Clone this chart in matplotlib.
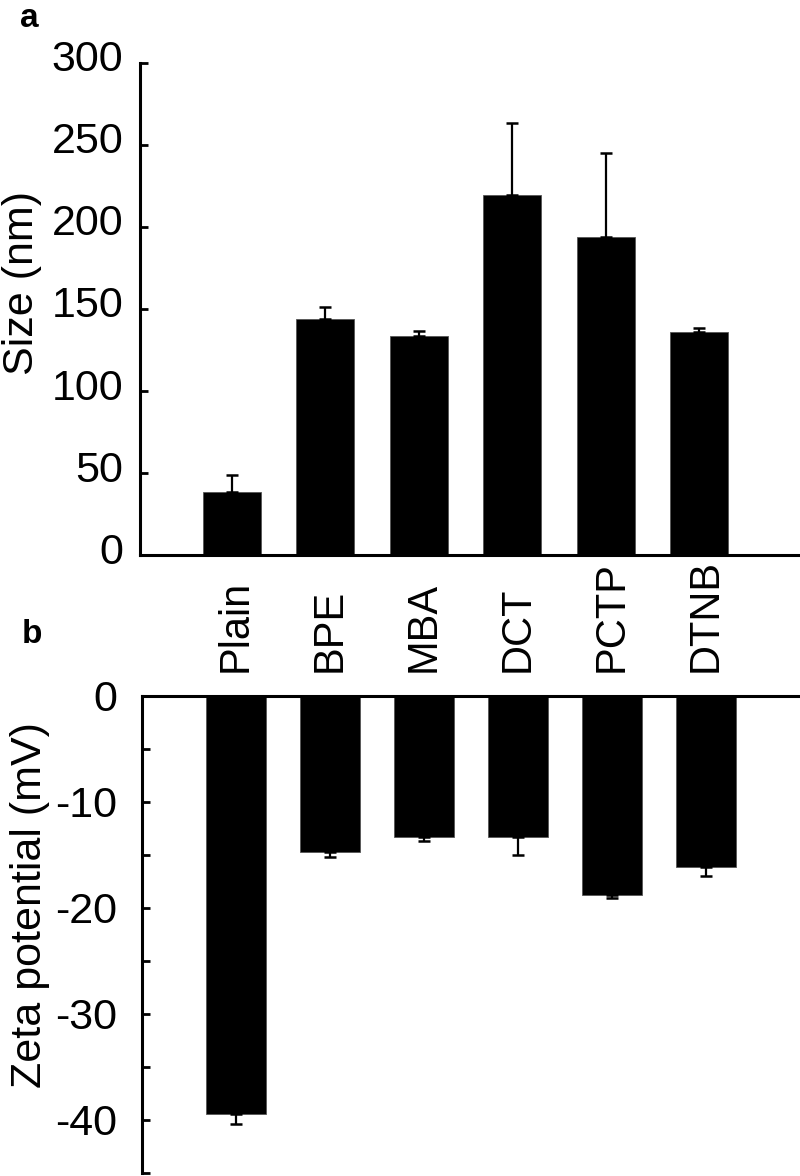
import numpy as np
import matplotlib
matplotlib.use('Agg')
import matplotlib.pyplot as plt
from matplotlib.transforms import ScaledTranslation

plt.rcParams['font.family'] = ['Liberation Sans', 'DejaVu Sans']
plt.rcParams['axes.unicode_minus'] = False

categories = ['Plain', 'BPE', 'MBA', 'DCT', 'PCTP', 'DTNB']

size_nm = [38.2, 143.9, 133.4, 219.3, 193.7, 136.2]
size_err = [10.6, 7.5, 3.2, 44.0, 51.3, 2.4]

zeta_mv = [-39.4, -14.7, -13.3, -13.3, -18.8, -16.1]
zeta_err = [1.0, 0.5, 0.4, 1.7, 0.3, 0.9]

size_ticks = [0, 50, 100, 150, 200, 250, 300]
zeta_ticks = [0, -10, -20, -30, -40]

x = np.arange(1, len(categories) + 1)
fig = plt.figure(figsize=(8, 11.76), dpi=100)


''' Panel a: size '''
ax1 = fig.add_axes([0.175, 0.528, 0.825, 0.4185])
ax1.bar(x, size_nm, width=0.62, color='black', edgecolor='#555555', linewidth=0.6)
ax1.errorbar(x, size_nm, yerr=[np.zeros(len(size_err)), size_err], fmt='none',
             ecolor='black', elinewidth=1.6, capsize=4, capthick=1.8)
ax1.set_xlim(0.015, 7.08)
ax1.set_ylim(0, 300)
ax1.set_yticks(size_ticks)
ax1.set_xticks([])
for s in ['top', 'right']:
    ax1.spines[s].set_visible(False)
for s in ['left', 'bottom']:
    ax1.spines[s].set_linewidth(2.2)
ax1.tick_params(axis='y', direction='in', length=6, width=2, labelsize=31, pad=12)
off = ScaledTranslation(0, 7 / 100, fig.dpi_scale_trans)
for lab in ax1.get_yticklabels():
    lab.set_transform(lab.get_transform() + off)
ax1.set_ylabel('Size (nm)', fontsize=31)
ax1.yaxis.set_label_coords(-0.148, 0.553)


''' Panel b: zeta potential '''
ax2 = fig.add_axes([0.178, 0.0026, 0.822, 0.4056])
ax2.bar(x, zeta_mv, width=0.64, color='black', edgecolor='#555555', linewidth=0.6)
ax2.errorbar(x, zeta_mv, yerr=[zeta_err, np.zeros(len(zeta_err))], fmt='none',
             ecolor='black', elinewidth=1.6, capsize=4, capthick=1.8)
ax2.set_xlim(0.008, 7.0)
ax2.set_ylim(-45, 0)
ax2.set_yticks(zeta_ticks)
ax2.set_yticks(np.arange(-45, 0, 10), minor=True)
ax2.set_xticks(x)
ax2.set_xticklabels(categories, rotation=90)
ax2.tick_params(axis='x', length=0, labelsize=30, top=True, bottom=False,
                labeltop=True, labelbottom=False, pad=17)
for s in ['bottom', 'right']:
    ax2.spines[s].set_visible(False)
for s in ['left', 'top']:
    ax2.spines[s].set_linewidth(2.2)
ax2.tick_params(axis='y', which='both', direction='in', length=6, width=2)
ax2.tick_params(axis='y', labelsize=31, pad=18)
ax2.set_ylabel('Zeta potential (mV)', fontsize=31)
ax2.yaxis.set_label_coords(-0.141, 0.562)

fig.text(0.025, 0.977, 'a', fontsize=24, fontweight='bold')
fig.text(0.027, 0.453, 'b', fontsize=24, fontweight='bold')

fig.savefig('out.png', dpi=100)
